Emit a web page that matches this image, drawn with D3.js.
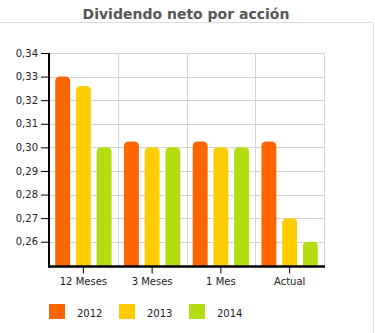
<!DOCTYPE html>
<html><head><meta charset="utf-8">
<script src="https://cdn.jsdelivr.net/npm/d3@7"></script>
<style>body{margin:0;background:#fff}svg{display:block}</style>
</head><body>
<script>
const categories = ["12 Meses", "3 Meses", "1 Mes", "Actual"];
const seriesNames = ["2012", "2013", "2014"];
const values2012 = [0.330, 0.3025, 0.3025, 0.3025];
const values2013 = [0.326, 0.300, 0.300, 0.270];
const values2014 = [0.300, 0.300, 0.300, 0.260];
const yTicks = [0.26, 0.27, 0.28, 0.29, 0.30, 0.31, 0.32, 0.33, 0.34];
const colors = ["#ff6600", "#ffcc00", "#b3dd11"];
const title = "Dividendo neto por acción";

const series = [values2012, values2013, values2014];
const W = 375, H = 333;
const svg = d3.select("body").append("svg").attr("width", W).attr("height", H);
const font = "DejaVu Sans, Verdana, sans-serif";

// outer frame
svg.append("path").attr("d", `M0,22.5H373.5V${H}`).attr("fill","none").attr("stroke","#dcdcdc").attr("stroke-width",1);

svg.append("text").attr("x", 186).attr("y", 19).attr("text-anchor","middle")
  .attr("font-family", font).attr("font-weight","bold").attr("font-size", 14).attr("fill","#555")
  .text(title);

const x0 = 49, x1 = 324, yTop = 53, yBot = 266.5;
const x = d3.scaleBand().domain(categories).range([x0, x1]);
const xs = d3.scaleBand().domain(seriesNames).range([0, x.bandwidth()]).paddingInner(0.28).paddingOuter(0.3);
const y = d3.scaleLinear().domain([0.2495, 0.34]).range([yBot, yTop]);

const g = svg.append("g");
// horizontal grid
g.selectAll(".hg").data(yTicks).join("line")
  .attr("x1", x0).attr("x2", x1).attr("y1", d => Math.round(y(d))+0.5).attr("y2", d => Math.round(y(d))+0.5)
  .attr("stroke","#d4d4d4");
// vertical grid
const vb = categories.map(c => x(c) + x.bandwidth());
g.selectAll(".vg").data(vb).join("line")
  .attr("x1", d => Math.round(d)+0.5).attr("x2", d => Math.round(d)+0.5).attr("y1", yTop).attr("y2", yBot)
  .attr("stroke","#d4d4d4");

// bars
const r = 5;
series.forEach((vals, si) => {
  g.selectAll(".b"+si).data(vals).join("path")
    .attr("fill", colors[si])
    .attr("d", (v, i) => {
      const bx = x(categories[i]) + xs(seriesNames[si]);
      const bw = xs.bandwidth();
      const top = y(v), bot = yBot;
      return `M${bx},${bot}V${top+r}Q${bx},${top} ${bx+r},${top}H${bx+bw-r}Q${bx+bw},${top} ${bx+bw},${top+r}V${bot}Z`;
    });
});

// y axis
const yAxis = d3.axisLeft(y).tickValues(yTicks).tickSize(8).tickPadding(3).tickFormat(d => d3.format(".2f")(d).replace(".", ","));
const ya = svg.append("g").attr("transform", `translate(${x0},0)`).call(yAxis);
ya.select(".domain").remove();
ya.selectAll("line").attr("stroke","#000").attr("stroke-width",1);
ya.selectAll("text").attr("font-family", font).attr("font-size", 10).attr("fill","#222");
svg.append("line").attr("x1", x0).attr("x2", x0).attr("y1", yTop).attr("y2", yBot+1).attr("stroke","#000").attr("stroke-width",2);

// x axis
const xAxis = d3.axisBottom(x).tickSize(7).tickPadding(4);
const xa = svg.append("g").attr("transform", `translate(0,${yBot})`).call(xAxis);
xa.select(".domain").remove();
xa.selectAll("line").attr("stroke","#000");
xa.selectAll("text").attr("font-family", font).attr("font-size", 10).attr("fill","#222");
svg.append("line").attr("x1", x0-1).attr("x2", x1+1).attr("y1", yBot).attr("y2", yBot).attr("stroke","#000").attr("stroke-width",2.5);

// legend
const lg = svg.append("g");
seriesNames.forEach((n, i) => {
  const lx = 49 + i*70;
  lg.append("rect").attr("x", lx).attr("y", 304).attr("width", 16).attr("height", 15).attr("fill", colors[i]);
  lg.append("text").attr("x", lx+28).attr("y", 317).attr("font-family", font).attr("font-size", 10).attr("fill","#222").text(n);
});
</script>
</body></html>
